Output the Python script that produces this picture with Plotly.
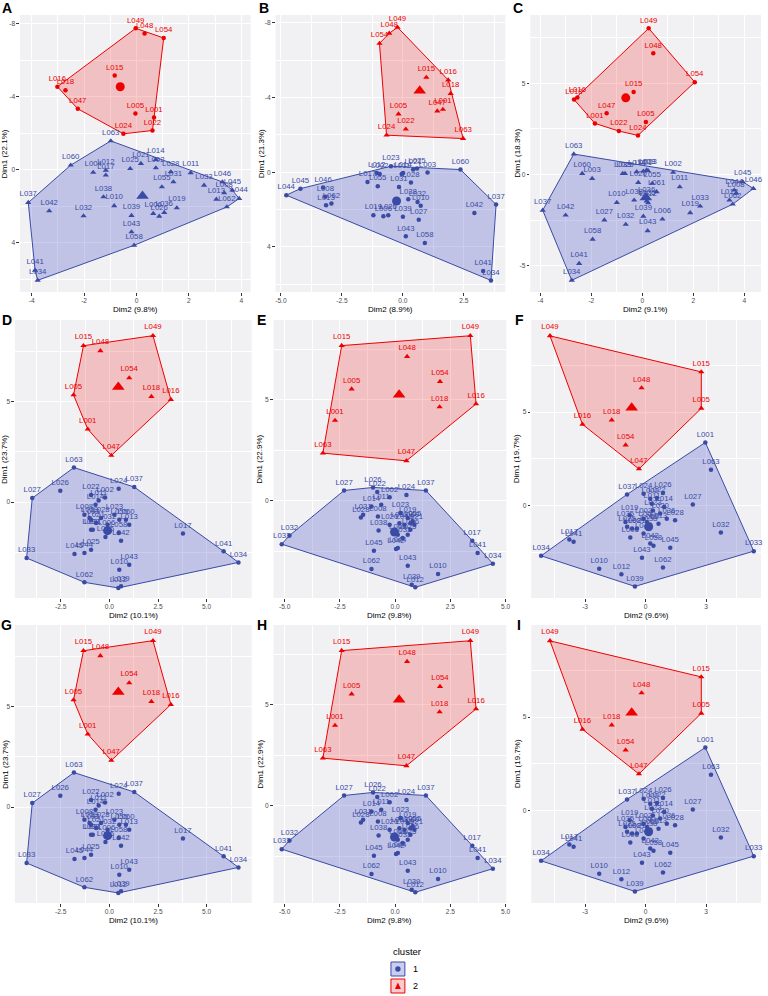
import plotly.graph_objects as go

W, H = 768, 996
RED = "#EE0000"
BLUE = "#3A4BA6"
RED_FILL = "rgba(238,0,0,0.2)"
BLUE_FILL = "rgba(80,90,200,0.3)"
FONT = "Liberation Sans, Arial, sans-serif"

# ---- panel A ----
a_red_lab = ["L049", "L048", "L054", "L015", "L016", "L018", "L047", "L005", "L001", "L022", "L024"]
a_red_x = [-0.03, 0.31, 1.04, -0.83, -3.02, -2.71, -2.24, -0.04, 0.67, 0.61, -0.50]
a_red_y = [-7.74, -7.46, -7.21, -5.16, -4.54, -4.35, -3.33, -3.07, -2.85, -2.14, -1.96]
a_red_ctr = [-0.62, -4.54]
a_blue_lab = ["L063", "L060", "L004", "L012", "L017", "L025", "L021", "L014", "L002", "L028",
              "L031", "L055", "L011", "L033", "L046", "L045", "L008", "L013", "L044", "L062",
              "L038", "L010", "L032", "L039", "L006", "L026", "L036", "L019", "L043", "L058",
              "L037", "L042", "L041", "L034"]
a_blue_x = [-0.98, -2.51, -1.65, -1.17, -1.17, -0.24, 0.17, 0.74, 0.74, 1.31,
            1.41, 0.97, 2.07, 2.58, 3.28, 3.66, 3.35, 3.05, 3.92, 3.45,
            -1.26, -0.85, -2.02, -0.19, 0.64, 0.87, 1.06, 1.54, -0.19, -0.09,
            -4.13, -3.33, -3.87, -3.77]
a_blue_y = [-1.57, -0.24, 0.16, 0.04, 0.31, -0.05, -0.33, -0.55, -0.09, 0.13,
            0.68, 0.95, 0.18, 0.86, 0.68, 1.13, 1.28, 1.63, 1.59, 2.05,
            1.50, 1.99, 2.54, 2.52, 2.41, 2.56, 2.36, 2.10, 3.42, 4.15,
            1.81, 2.27, 5.52, 6.07]
a_blue_ctr = [0.23, 1.45]
a_xticks = [-4, -2, 0, 2, 4]
a_xtext = ["-4", "-2", "0", "2", "4"]
a_yticks = [-8, -4, 0, 4]
a_ytext = ["-8", "-4", "0", "4"]

# ---- panel B ----
b_red_lab = ["L049", "L048", "L054", "L015", "L016", "L018", "L001", "L047", "L005", "L022", "L024", "L063"]
b_red_x = [-0.22, -0.56, -0.96, 0.96, 1.86, 1.96, 1.64, 1.41, -0.18, 0.12, -0.67, 2.47]
b_red_y = [-7.75, -7.43, -6.89, -5.07, -4.93, -4.21, -3.36, -3.27, -3.11, -2.30, -1.98, -1.80]
b_red_ctr = [0.69, -4.36]
b_blue_lab = ["L044", "L045", "L046", "L008", "L013", "L062", "L017", "L012", "L002", "L055",
              "L023", "L014", "L021", "L025", "L003", "L028", "L031", "L038", "L010", "L032",
              "L027", "L039", "L019", "L006", "L026", "L043", "L058", "L060", "L037", "L042",
              "L041", "L034", "L011"]
b_blue_x = [-4.78, -4.20, -3.27, -3.18, -3.15, -2.93, -1.45, -1.07, -0.95, -1.03,
            -0.49, 0.01, 0.42, 0.58, 1.01, 0.33, -0.16, 0.22, 0.73, 0.60,
            0.65, 0.00, -1.21, -0.80, -0.60, 0.12, 0.90, 2.36, 3.82, 2.93,
            3.29, 3.61, -0.05]
b_blue_y = [1.23, 0.88, 0.82, 1.32, 1.77, 1.68, 0.52, 0.04, 0.10, 0.75,
            -0.32, 0.04, -0.14, -0.20, 0.02, 0.55, 0.79, 1.45, 1.80, 1.59,
            2.54, 2.39, 2.30, 2.36, 2.30, 3.43, 3.79, -0.14, 1.73, 2.18,
            5.29, 5.79, 0.10]
b_blue_ctr = [-0.26, 1.54]
b_xticks = [-5.0, -2.5, 0.0, 2.5]
b_xtext = ["-5.0", "-2.5", "0.0", "2.5"]
b_yticks = [-8, -4, 0, 4]
b_ytext = ["-8", "-4", "0", "4"]

# ---- panel C ----
c_red_lab = ["L049", "L048", "L054", "L015", "L016", "L018", "L047", "L001", "L005", "L022", "L024"]
c_red_x = [0.25, 0.43, 2.06, -0.34, -2.55, -2.68, -1.40, -1.86, 0.14, -0.92, -0.17]
c_red_y = [8.01, 6.64, 5.06, 4.52, 4.22, 4.11, 3.35, 2.80, 2.87, 2.38, 2.14]
c_red_ctr = [-0.65, 4.20]
c_blue_lab = ["L063", "L060", "L003", "L035", "L025", "L014", "L021", "L028", "L023", "L002",
              "L020", "L055", "L061", "L011", "L045", "L046", "L044", "L008", "L013", "L062",
              "L010", "L038", "L026", "L036", "L012", "L033", "L019", "L042", "L027", "L032",
              "L039", "L006", "L043", "L058", "L037", "L041", "L034"]
c_blue_x = [-2.69, -2.36, -1.97, -0.77, -0.68, -0.22, 0.04, 0.17, 0.23, 1.21,
            -0.16, 0.39, 0.56, 1.47, 3.94, 4.36, 3.61, 3.68, 3.42, 3.55,
            -1.00, -0.32, 0.17, 0.17, 0.23, 2.27, 1.88, -3.01, -1.49, -0.65,
            0.04, 0.79, 0.21, -1.95, -3.91, -2.48, -2.77]
c_blue_y = [1.12, 0.05, -0.22, 0.05, 0.05, 0.15, 0.18, 0.24, 0.20, 0.11,
            -0.44, -0.49, -0.95, -0.68, -0.40, -0.77, -0.86, -1.04, -1.41, -1.63,
            -1.54, -1.41, -1.46, -1.32, -1.55, -1.74, -2.10, -2.23, -2.50, -2.74,
            -2.29, -2.45, -3.09, -3.55, -1.96, -4.88, -5.80]
c_blue_ctr = [0.14, -1.26]
c_xticks = [-4, -2, 0, 2, 4]
c_xtext = ["-4", "-2", "0", "2", "4"]
c_yticks = [-5, 0, 5]
c_ytext = ["-5", "0", "5"]

# ---- panel D (and G) ----
d_red_lab = ["L049", "L015", "L048", "L054", "L005", "L018", "L016", "L001", "L047"]
d_red_x = [2.24, -1.33, -0.46, 1.02, -1.84, 2.16, 3.16, -1.11, 0.10]
d_red_y = [8.28, 7.78, 7.53, 6.18, 5.33, 5.25, 5.10, 3.63, 2.32]
d_red_ctr = [0.46, 5.73]
d_blue_lab = ["L063", "L026", "L027", "L022", "L002", "L024", "L037", "L011", "L014", "L023",
              "L055", "L060", "L013", "L008", "L019", "L003", "L028", "L021", "L032", "L006",
              "L058", "L042", "L036", "L038", "L031", "L025", "L045", "L044", "L033", "L043",
              "L010", "L062", "L039", "L012", "L017", "L041", "L034"]
d_blue_x = [-1.82, -2.52, -3.96, -0.94, -0.22, 0.48, 1.28, -0.55, -0.71, 0.26,
            0.51, 0.85, 1.02, -1.28, -1.02, -0.94, -0.43, -0.68, -0.09, -0.14,
            0.48, 0.60, -0.20, -0.94, -0.85, -0.94, -1.79, -1.28, -4.25, 1.02,
            0.51, -1.28, 0.60, 0.46, 3.78, 5.87, 6.63]
d_blue_y = [1.72, 0.56, 0.20, 0.36, 0.23, 0.66, 0.75, 0.08, -0.13, -0.63,
            -0.88, -0.88, -1.13, -0.63, -0.79, -0.88, -0.79, -1.04, -1.13, -1.42,
            -1.54, -1.92, -1.74, -1.37, -1.37, -2.37, -2.58, -2.53, -2.78, -3.11,
            -3.36, -3.99, -4.19, -4.27, -1.56, -2.45, -3.00]
d_blue_ctr = [-0.09, -1.42]
d_xticks = [-2.5, 0.0, 2.5, 5.0]
d_xtext = ["-2.5", "0.0", "2.5", "5.0"]
d_yticks = [0, 5]
d_ytext = ["0", "5"]

# ---- panel E (and H) ----
e_red_lab = ["L049", "L015", "L048", "L054", "L005", "L018", "L016", "L001", "L063", "L047"]
e_red_x = [3.40, -2.42, 0.54, 2.03, -1.97, 2.01, 3.66, -2.72, -3.27, 0.51]
e_red_y = [8.18, 7.69, 7.15, 5.91, 5.54, 4.65, 4.80, 3.98, 2.36, 1.98]
e_red_ctr = [0.18, 5.25]
e_blue_lab = ["L027", "L026", "L022", "L002", "L014", "L011", "L024", "L037", "L031", "L028",
              "L008", "L023", "L019", "L003", "L013", "L060", "L055", "L021", "L036", "L020",
              "L038", "L006", "L025", "L035", "L042", "L044", "L045", "L062", "L043", "L010",
              "L039", "L012", "L017", "L041", "L034", "L032", "L033"]
e_blue_x = [-2.31, -1.00, -0.81, -0.25, -1.07, -0.63, 0.51, 1.39, -1.45, -1.55,
            -0.78, 0.24, 0.57, 0.19, 0.42, 0.69, 0.79, 0.87, 0.69, -0.25,
            -0.75, 0.12, 0.57, 0.34, 0.04, 0.12, -0.96, -1.07, 0.57, 1.94,
            0.75, 0.91, 3.49, 3.73, 4.42, -4.78, -5.13]
e_blue_y = [0.51, 0.66, 0.43, 0.17, -0.28, -0.20, 0.28, 0.51, -0.69, -0.83,
            -0.78, -0.61, -0.86, -1.11, -1.19, -1.11, -1.02, -1.19, -1.44, -1.19,
            -1.47, -1.68, -1.68, -1.85, -2.39, -2.34, -2.48, -3.38, -3.22, -3.63,
            -4.16, -4.29, -1.98, -2.59, -3.12, -1.72, -2.15]
e_blue_ctr = [-0.03, -1.55]
e_xticks = [-5.0, -2.5, 0.0, 2.5, 5.0]
e_xtext = ["-5.0", "-2.5", "0.0", "2.5", "5.0"]
e_yticks = [0, 5]
e_ytext = ["0", "5"]

# ---- panel F (and I) ----
f_red_lab = ["L049", "L015", "L048", "L005", "L018", "L016", "L054", "L047"]
f_red_x = [-4.74, 2.76, -0.20, 2.76, -1.68, -3.13, -0.99, -0.33]
f_red_y = [9.08, 7.15, 6.29, 5.20, 4.57, 4.34, 3.23, 1.95]
f_red_ctr = [-0.69, 5.23]
f_blue_lab = ["L001", "L063", "L027", "L037", "L024", "L026", "L002", "L022", "L014", "L011",
              "L019", "L023", "L028", "L020", "L036", "L013", "L003", "L060", "L055", "L038",
              "L035", "L025", "L008", "L021", "L006", "L044", "L042", "L058", "L045", "L043",
              "L062", "L010", "L012", "L039", "L017", "L041", "L034", "L032", "L033"]
f_blue_x = [2.96, 3.24, 2.34, -0.92, -0.10, 0.86, 0.23, 0.56, 0.92, 0.31,
            -0.79, 0.36, 1.46, 0.72, 1.05, 0.64, -0.10, 0.07, 0.23, 0.15,
            -1.00, -0.92, -0.67, -0.43, -0.76, -0.10, 0.23, 0.39, 1.22, -0.18,
            0.86, -2.30, -1.20, -0.53, -3.78, -3.57, -5.18, 3.73, 5.36]
f_blue_y = [3.37, 1.91, 0.05, 0.59, 0.62, 0.67, 0.35, 0.39, -0.09, 0.09,
            -0.53, -0.27, -0.80, -0.44, -0.71, -0.98, -0.71, -0.89, -1.03, -1.15,
            -0.89, -1.15, -1.24, -1.24, -1.72, -1.51, -2.04, -2.16, -2.27, -2.80,
            -3.32, -3.40, -3.69, -4.34, -1.83, -1.95, -2.70, -1.45, -2.45]
f_blue_ctr = [0.15, -1.15]
f_xticks = [-3, 0, 3]
f_xtext = ["-3", "0", "3"]
f_yticks = [0, 5]
f_ytext = ["0", "5"]

xtitles = ["Dim2 (9.8%)", "Dim2 (8.9%)", "Dim2 (9.1%)", "Dim2 (10.1%)", "Dim2 (9.8%)", "Dim2 (9.6%)"]
ytitles = ["Dim1 (22.1%)", "Dim1 (21.3%)", "Dim1 (18.3%)", "Dim1 (23.7%)", "Dim1 (22.9%)", "Dim1 (19.7%)"]
letters = ["A", "B", "C", "D", "E", "F", "G", "H", "I"]
cluster_names = ["1", "2"]


def hull(xs, ys):
    pts = sorted(set(zip(xs, ys)))

    def cross(o, a, b):
        return (a[0] - o[0]) * (b[1] - o[1]) - (a[1] - o[1]) * (b[0] - o[0])

    lower, upper = [], []
    for p in pts:
        while len(lower) >= 2 and cross(lower[-2], lower[-1], p) <= 0:
            lower.pop()
        lower.append(p)
    for p in reversed(pts):
        while len(upper) >= 2 and cross(upper[-2], upper[-1], p) <= 0:
            upper.pop()
        upper.append(p)
    h = lower[:-1] + upper[:-1]
    h.append(h[0])
    return [p[0] for p in h], [p[1] for p in h]


panel_data = {
    "A": (a_red_lab, a_red_x, a_red_y, a_red_ctr, a_blue_lab, a_blue_x, a_blue_y, a_blue_ctr,
          a_xticks, a_xtext, a_yticks, a_ytext),
    "B": (b_red_lab, b_red_x, b_red_y, b_red_ctr, b_blue_lab, b_blue_x, b_blue_y, b_blue_ctr,
          b_xticks, b_xtext, b_yticks, b_ytext),
    "C": (c_red_lab, c_red_x, c_red_y, c_red_ctr, c_blue_lab, c_blue_x, c_blue_y, c_blue_ctr,
          c_xticks, c_xtext, c_yticks, c_ytext),
    "D": (d_red_lab, d_red_x, d_red_y, d_red_ctr, d_blue_lab, d_blue_x, d_blue_y, d_blue_ctr,
          d_xticks, d_xtext, d_yticks, d_ytext),
    "E": (e_red_lab, e_red_x, e_red_y, e_red_ctr, e_blue_lab, e_blue_x, e_blue_y, e_blue_ctr,
          e_xticks, e_xtext, e_yticks, e_ytext),
    "F": (f_red_lab, f_red_x, f_red_y, f_red_ctr, f_blue_lab, f_blue_x, f_blue_y, f_blue_ctr,
          f_xticks, f_xtext, f_yticks, f_ytext),
}

# layout of each panel: data key, pixel box (left, right, top, bottom), x range, y range,
# red symbol, blue symbol, x/y title index, y-title x offset
panels = [
    ("A", (20, 252, 15, 292), [-4.45, 4.36], [6.71, -8.47], "circle", "triangle-up", 0, 15),
    ("B", (277, 508, 15, 292), [-5.22, 4.20], [6.41, -8.41], "triangle-up", "circle", 1, 14),
    ("C", (533, 765, 15, 292), [-4.40, 4.66], [-6.44, 8.74], "circle", "triangle-up", 2, 13),
    ("D", (15, 253, 320, 598), [-4.85, 7.31], [-4.77, 9.06], "triangle-up", "circle", 3, 10),
    ("E", (275, 509, 320, 598), [-5.50, 5.03], [-4.82, 8.96], "triangle-up", "circle", 4, 14),
    ("F", (534, 765, 320, 598), [-5.67, 5.72], [-4.96, 9.93], "triangle-up", "circle", 5, 14),
    ("D", (15, 253, 625, 903), [-4.85, 7.31], [-4.77, 9.06], "triangle-up", "circle", 3, 10),
    ("E", (275, 509, 625, 903), [-5.50, 5.03], [-4.82, 8.96], "triangle-up", "circle", 4, 14),
    ("F", (534, 765, 625, 903), [-5.67, 5.72], [-4.96, 9.93], "triangle-up", "circle", 5, 14),
]


def px(x):
    return x / W


def py(y):
    return 1 - y / H


def mids(vals):
    step = vals[1] - vals[0]
    return [vals[0] - step / 2] + [v + step / 2 for v in vals]


fig = go.Figure()
annotations = []
layout_axes = {}

for i, (key, box, xr, yr, rsym, bsym, ti, yoff) in enumerate(panels):
    (rl, rx, ry, rc, bl, bx, by, bc, xt, xtt, yt, ytt) = panel_data[key]
    n = "" if i == 0 else str(i + 1)
    xa, ya = "x" + n, "y" + n
    left, right, top, bottom = box

    for xs, ys, col, fill in ((bx, by, BLUE, BLUE_FILL), (rx, ry, RED, RED_FILL)):
        hx, hy = hull(xs, ys)
        fig.add_trace(go.Scatter(
            x=hx, y=hy, xaxis=xa, yaxis=ya, mode="lines", fill="toself",
            fillcolor=fill, line=dict(color=col, width=1), hoverinfo="skip", showlegend=False,
        ))
    for labs, xs, ys, col, sym in ((bl, bx, by, BLUE, bsym), (rl, rx, ry, RED, rsym)):
        fig.add_trace(go.Scatter(
            x=xs, y=ys, text=labs, xaxis=xa, yaxis=ya, mode="markers+text",
            textposition="top center", cliponaxis=False,
            textfont=dict(family=FONT, size=7.8, color=col),
            marker=dict(symbol=sym, size=4.5 if sym == "circle" else 5.5, color=col),
            showlegend=False,
        ))
    for ctr, col, sym in ((bc, BLUE, bsym), (rc, RED, rsym)):
        fig.add_trace(go.Scatter(
            x=[ctr[0]], y=[ctr[1]], xaxis=xa, yaxis=ya, mode="markers",
            marker=dict(symbol=sym, size=9 if sym == "circle" else 11, color=col),
            showlegend=False,
        ))

    common = dict(
        showgrid=True, gridcolor="white", gridwidth=1, zeroline=False, showline=False,
        ticks="outside", ticklen=2.5, tickwidth=0.8, tickcolor="#333333",
        tickfont=dict(family=FONT, size=6.6, color="#4D4D4D"), tickmode="array",
    )
    layout_axes["xaxis" + n] = dict(
        common, domain=[px(left), px(right)], range=xr, anchor=ya,
        tickvals=xt, ticktext=xtt,
        minor=dict(tickmode="array", tickvals=mids(xt), showgrid=True,
                   gridcolor="white", gridwidth=0.5, ticks=""),
    )
    layout_axes["yaxis" + n] = dict(
        common, domain=[py(bottom), py(top)], range=yr, anchor=xa,
        tickvals=yt, ticktext=ytt,
        minor=dict(tickmode="array", tickvals=mids(yt), showgrid=True,
                   gridcolor="white", gridwidth=0.5, ticks=""),
    )

    annotations.append(dict(
        text=xtitles[ti], x=px((left + right) / 2), y=py(bottom + 17), xref="paper", yref="paper",
        showarrow=False, font=dict(family=FONT, size=8, color="black"),
        xanchor="center", yanchor="middle",
    ))
    annotations.append(dict(
        text=ytitles[ti], x=px(left - yoff), y=py((top + bottom) / 2), xref="paper", yref="paper",
        showarrow=False, textangle=-90, font=dict(family=FONT, size=8, color="black"),
        xanchor="center", yanchor="middle",
    ))
    letter_y = 8 if top < 100 else top
    annotations.append(dict(
        text="<b>" + letters[i] + "</b>", x=px(left - 12 if left > 100 else 7), y=py(letter_y),
        xref="paper", yref="paper", showarrow=False,
        font=dict(family=FONT, size=14, color="black"), xanchor="center", yanchor="middle",
    ))

# legend drawn as a small key block under the grid
shapes = []
key_rows = [(962, 976, BLUE, BLUE_FILL), (979, 993, RED, RED_FILL)]
for (y0, y1, col, fill), name in zip(key_rows, cluster_names):
    shapes.append(dict(type="rect", xref="paper", yref="paper",
                       x0=px(393), x1=px(407), y0=py(y1), y1=py(y0),
                       fillcolor=fill, line=dict(color=col, width=1)))
    annotations.append(dict(
        text=name, x=px(413), y=py((y0 + y1) / 2), xref="paper", yref="paper", showarrow=False,
        font=dict(family=FONT, size=9, color="black"), xanchor="left", yanchor="middle",
    ))
cy1 = (962 + 976) / 2
shapes.append(dict(type="circle", xref="paper", yref="paper",
                   x0=px(397.3), x1=px(402.7), y0=py(cy1 + 2.7), y1=py(cy1 - 2.7),
                   fillcolor=BLUE, line=dict(color=BLUE, width=0)))
cy2 = (979 + 993) / 2
shapes.append(dict(type="path", xref="paper", yref="paper",
                   path=f"M {px(397):.5f} {py(cy2 + 3):.5f} L {px(403):.5f} {py(cy2 + 3):.5f} "
                        f"L {px(400):.5f} {py(cy2 - 3.5):.5f} Z",
                   fillcolor=RED, line=dict(color=RED, width=0)))
annotations.append(dict(
    text="cluster", x=px(393), y=py(951), xref="paper", yref="paper", showarrow=False,
    font=dict(family=FONT, size=9.5, color="black"), xanchor="left", yanchor="middle",
))

fig.update_layout(
    width=W, height=H,
    margin=dict(l=0, r=0, t=0, b=0),
    paper_bgcolor="white",
    plot_bgcolor="#F1F1F3",
    showlegend=False,
    annotations=annotations,
    shapes=shapes,
    font=dict(family=FONT),
    **layout_axes,
)

# drop the browser's default page margin so the figure sits at the window origin
fig.write_html(
    "out.html",
    config={"displayModeBar": False},
    post_script="document.body.style.margin='0';",
)
